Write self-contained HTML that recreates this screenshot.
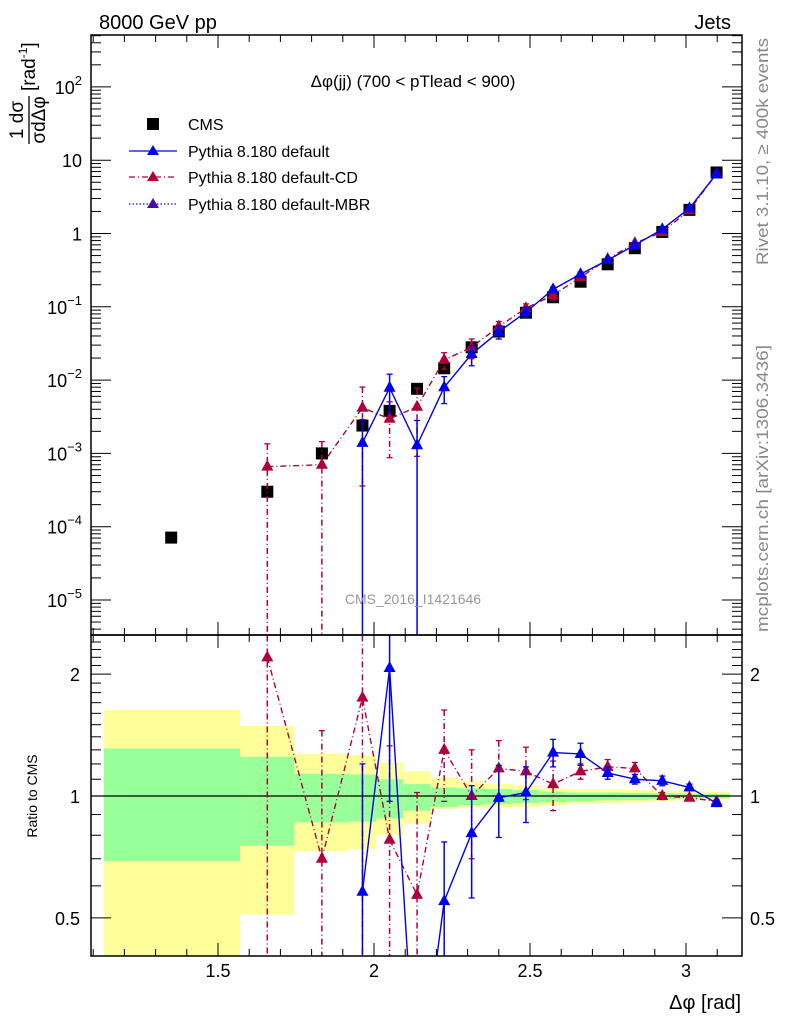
<!DOCTYPE html>
<html><head><meta charset="utf-8"><style>
html,body{margin:0;padding:0;background:#fff;width:786px;height:1024px;overflow:hidden;}
svg{display:block;font-family:"Liberation Sans","DejaVu Sans",sans-serif;}
</style></head><body>
<svg id="chart" width="786" height="1024" viewBox="0 0 786 1024" xmlns="http://www.w3.org/2000/svg">
<defs>
<clipPath id="clipMain"><rect x="91" y="35" width="651" height="600"/></clipPath>
<clipPath id="clipRatio"><rect x="91" y="635" width="651" height="321"/></clipPath>
</defs>
<rect x="0" y="0" width="786" height="1024" fill="#fff"/>
<g id="bands" clip-path="url(#clipRatio)"></g>
<g id="ticks"></g>
<line x1="91" y1="796" x2="742" y2="796" stroke="#000" stroke-width="1.2"/>
<g id="mainData" clip-path="url(#clipMain)"></g>
<g id="ratioData" clip-path="url(#clipRatio)"></g>
<rect x="91" y="35" width="651" height="600" fill="none" stroke="#000" stroke-width="1.5"/>
<rect x="91" y="635" width="651" height="321" fill="none" stroke="#000" stroke-width="1.5"/>
<g id="labels"></g>

<text x="99" y="29" font-size="20">8000 GeV pp</text>
<text x="731" y="29" font-size="20" text-anchor="end">Jets</text>
<text x="413" y="87" font-size="17" text-anchor="middle">Δφ(jj) (700 &lt; pTlead &lt;  900)</text>
<text x="413" y="604" font-size="14" fill="#999" text-anchor="middle">CMS_2016_I1421646</text>
<text transform="translate(768,265) rotate(-90)" font-size="17" fill="#888" textLength="227" lengthAdjust="spacingAndGlyphs">Rivet 3.1.10, ≥ 400k events</text>
<text transform="translate(768,632) rotate(-90)" font-size="17" fill="#888" textLength="287" lengthAdjust="spacingAndGlyphs">mcplots.cern.ch [arXiv:1306.3436]</text>

<g transform="translate(30,120) rotate(-90)">
  <text x="0" y="-7" font-size="19" text-anchor="middle">1 dσ</text>
  <line x1="-24" y1="-1" x2="24" y2="-1" stroke="#000" stroke-width="1.3"/>
  <text x="0" y="15" font-size="19" text-anchor="middle">σdΔφ</text>
  <text x="29" y="5" font-size="19">[rad<tspan font-size="12" dy="-8">-1</tspan><tspan dy="8">]</tspan></text>
</g>
<text transform="translate(37,796) rotate(-90)" font-size="14" text-anchor="middle">Ratio to CMS</text>
<text x="741" y="1009" font-size="20" text-anchor="end">Δφ [rad]</text>

<g>
  <g>
    <rect x="147" y="118" width="12" height="12" fill="#000"/>
    <text x="188" y="130" font-size="16">CMS</text>
  </g>
  <g>
    <line x1="129" y1="151" x2="177" y2="151" stroke="#0000ee" stroke-width="1.3"/>
    <polygon points="153,145 159,155 147,155" fill="#0000ee"/>
    <text x="188" y="157" font-size="16">Pythia 8.180 default</text>
  </g>
  <g>
    <line x1="129" y1="177" x2="177" y2="177" stroke="#b0003a" stroke-width="1.3" stroke-dasharray="6,3,1,3"/>
    <polygon points="153,171 159,181 147,181" fill="#b0003a"/>
    <text x="188" y="183" font-size="16">Pythia 8.180 default-CD</text>
  </g>
  <g>
    <line x1="129" y1="204" x2="177" y2="204" stroke="#2a00cc" stroke-width="1.3" stroke-dasharray="1.5,2"/>
    <polygon points="153,198 159,208 147,208" fill="#4a0aa8"/>
    <text x="188" y="210" font-size="16">Pythia 8.180 default-MBR</text>
  </g>
</g>
</svg>
<script>
// ---- data ----
const binEdges = [1.134,1.571,1.745,1.920,2.007,2.094,2.182,2.269,2.356,2.443,2.531,2.618,2.705,2.793,2.880,2.967,3.054,3.1416];
const binCenters = [1.35,1.658,1.833,1.963,2.05,2.138,2.225,2.313,2.40,2.487,2.574,2.662,2.749,2.836,2.924,3.011,3.098];
const cmsValues = [7.1e-5,3.0e-4,1.0e-3,2.4e-3,3.8e-3,7.6e-3,0.0145,0.028,0.046,0.083,0.135,0.22,0.38,0.63,1.05,2.1,6.8];
const yellowUp = [1.63,1.49,1.27,1.26,1.21,1.15,1.11,1.087,1.07,1.06,1.045,1.04,1.04,1.035,1.03,1.03,1.025];
const yellowDown = [0.30,0.51,0.73,0.74,0.80,0.855,0.93,0.935,0.935,0.94,0.95,0.955,0.96,0.965,0.97,0.975,0.978];
const greenUp = [1.31,1.25,1.135,1.13,1.10,1.07,1.05,1.045,1.04,1.035,1.025,1.02,1.02,1.018,1.016,1.014,1.012];
const greenDown = [0.69,0.754,0.86,0.865,0.88,0.92,0.94,0.95,0.955,0.96,0.965,0.97,0.975,0.978,0.982,0.985,0.987];
// MC ratios to CMS (null = no prediction)
const defRatio = [null,null,null,0.58,2.07,0.17,0.55,0.81,0.99,1.02,1.28,1.27,1.14,1.10,1.09,1.05,0.96];
const defErr   = [0,0,0,0.62,1.1,0.2,0.22,0.25,0.2,0.16,0.1,0.08,0.04,0.03,0.03,0.02,0.01];
const cdRatio  = [null,2.2,0.70,1.75,0.78,0.57,1.30,1.0,1.17,1.15,1.07,1.15,1.18,1.17,1.0,0.99,0.97];
const cdErr    = [0,2.3,0.75,1.6,0.55,0.45,0.33,0.3,0.2,0.17,0.15,0.05,0.05,0.04,0.02,0.01,0.01];
const xTicks = [1.5,2,2.5,3];
const xTickLabels = ["1.5","2","2.5","3"];
const ratioTickLabels = ["0.5","1","2"];
const ratioTicks = [0.5,1,2];

// ---- axes ----
const X0=91,X1=742,MT=35,MB=635,RB=956;
const xs = v => 218 + (v-1.5)*312;
const ym = v => 233.5 - 73.3*Math.log10(v);
const yr = v => 796 - 405*Math.log10(v);
const NS="http://www.w3.org/2000/svg";
function mk(tag, attrs, parent){const e=document.createElementNS(NS,tag);for(const k in attrs)e.setAttribute(k,attrs[k]);parent.appendChild(e);return e;}
const ticks=document.getElementById('ticks'), labels=document.getElementById('labels');
const bands=document.getElementById('bands'), mainG=document.getElementById('mainData'), ratioG=document.getElementById('ratioData');

// x ticks
for(let v=1.1; v<=3.18; v+=0.1){
  const vv=Math.round(v*10)/10, x=xs(vv), major=Math.abs(vv*2-Math.round(vv*2))<1e-6;
  const L=major?13:7;
  [[MT,1],[MB,-1],[MB,1],[RB,-1]].forEach(([y,d])=>{
    const t=mk('line',{x1:x,x2:x,y1:y,y2:y+d*L,stroke:'#000','stroke-width':1},ticks);
    
    
  });
}
xTicks.forEach((v,i)=>{
  const t=mk('text',{x:xs(v),y:977,'font-size':18,'text-anchor':'middle'},labels);t.textContent=xTickLabels[i];
  
  
});
// main y ticks
for(let e=-6;e<=2;e++){
  for(let m=1;m<=9;m++){
    const v=m*Math.pow(10,e), y=ym(v);
    if(y<MT||y>MB) continue;
    const L=m===1?20:10;
    [[X0,1],[X1,-1]].forEach(([x,d])=>{
      const t=mk('line',{x1:x,x2:x+d*L,y1:y,y2:y,stroke:'#000','stroke-width':1},ticks);
      
      
    });
  }
  const y=ym(Math.pow(10,e));
  if(y>=MT&&y<=MB){
    const t=mk('text',{x:82,y:y+7,'font-size':18,'text-anchor':'end'},labels);
    
    
    if(e===0) t.textContent='1';
    else if(e===1) t.textContent='10';
    else { t.textContent='10'; const s=mk('tspan',{dy:-9,'font-size':13},t); s.textContent=(e<0?'\u2212':'')+Math.abs(e); }
  }
}
// ratio y ticks
for(let k=4;k<=25;k++){
  const v=k/10, y=yr(v);
  if(y<MB||y>RB) continue;
  const major=(k===5||k===10||k===20), L=major?20:10;
  [[X0,1],[X1,-1]].forEach(([x,d])=>{
    const t=mk('line',{x1:x,x2:x+d*L,y1:y,y2:y,stroke:'#000','stroke-width':1},ticks);
    
    
  });
}
ratioTicks.forEach((v,i)=>{
  const a=mk('text',{x:80,y:yr(v)+7,'font-size':18,'text-anchor':'end'},labels);a.textContent=ratioTickLabels[i];
  
  
  const b=mk('text',{x:750,y:yr(v)+7,'font-size':18},labels);b.textContent=ratioTickLabels[i];
  
  
});

// bands
cmsValues.forEach((_,i)=>{
  const xa=xs(binEdges[i]), xb=xs(binEdges[i+1]);
  const r1=mk('rect',{x:xa,y:yr(yellowUp[i]),width:xb-xa,height:yr(yellowDown[i])-yr(yellowUp[i]),fill:'#ffff99'},bands);
  
  
  const r2=mk('rect',{x:xa,y:yr(greenUp[i]),width:xb-xa,height:yr(greenDown[i])-yr(greenUp[i]),fill:'#99ff99'},bands);
  
  
});

function tri(g,x,y,c,name){
  const p=mk('polygon',{points:`${x},${y-7} ${x+6},${y+4} ${x-6},${y+4}`,fill:c},g);
  
  
}
function series(g, ratios, errs, color, dash, caps, ratioPanel, name){
  const yf = ratioPanel ? (r,i)=>yr(r) : (r,i)=>ym(r*cmsValues[i]);
  const bottom = ratioPanel ? RB+5 : MB+5;
  let pts=[];
  ratios.forEach((r,i)=>{
    if(r===null) return;
    const x=xs(binCenters[i]);
    pts.push(`${x},${yf(r,i)}`);
    const hi=r+errs[i], lo=r-errs[i];
    const yh=yf(hi,i), yl= lo>0 ? yf(lo,i) : bottom;
    const a={x1:x,x2:x,y1:yh,y2:yl,stroke:color,'stroke-width':1.5};
    if(dash) a['stroke-dasharray']=dash;
    const e=mk('line',a,g);
    
    
    [yh, lo>0?yl:null].forEach(yy=>{ if(yy===null) return;
      const c=mk('line',{x1:x-3,x2:x+3,y1:yy,y2:yy,stroke:color,'stroke-width':1.3},g);
      
      
    });
  });
  const la={points:pts.join(' '),fill:'none',stroke:color,'stroke-width':1.4};
  if(dash) la['stroke-dasharray']=dash;
  const l=mk('polyline',la,g);
  
  
  ratios.forEach((r,i)=>{ if(r===null) return; tri(g,xs(binCenters[i]),yf(r,i),color,name+'-marker'); });
}
// main: CMS squares
cmsValues.forEach((v,i)=>{
  const s=mk('rect',{x:xs(binCenters[i])-6,y:ym(v)-6,width:12,height:12,fill:'#000'},mainG);
  
  
});
series(mainG, cdRatio, cdErr, '#b0003a', '6,3,1,3', false, false, 'default-cd');
series(mainG, defRatio, defErr, '#0000ee', null, true, false, 'default');
series(ratioG, cdRatio, cdErr, '#b0003a', '6,3,1,3', false, true, 'ratio-default-cd');
series(ratioG, defRatio, defErr, '#0000ee', null, true, true, 'ratio-default');
</script>
</body></html>
